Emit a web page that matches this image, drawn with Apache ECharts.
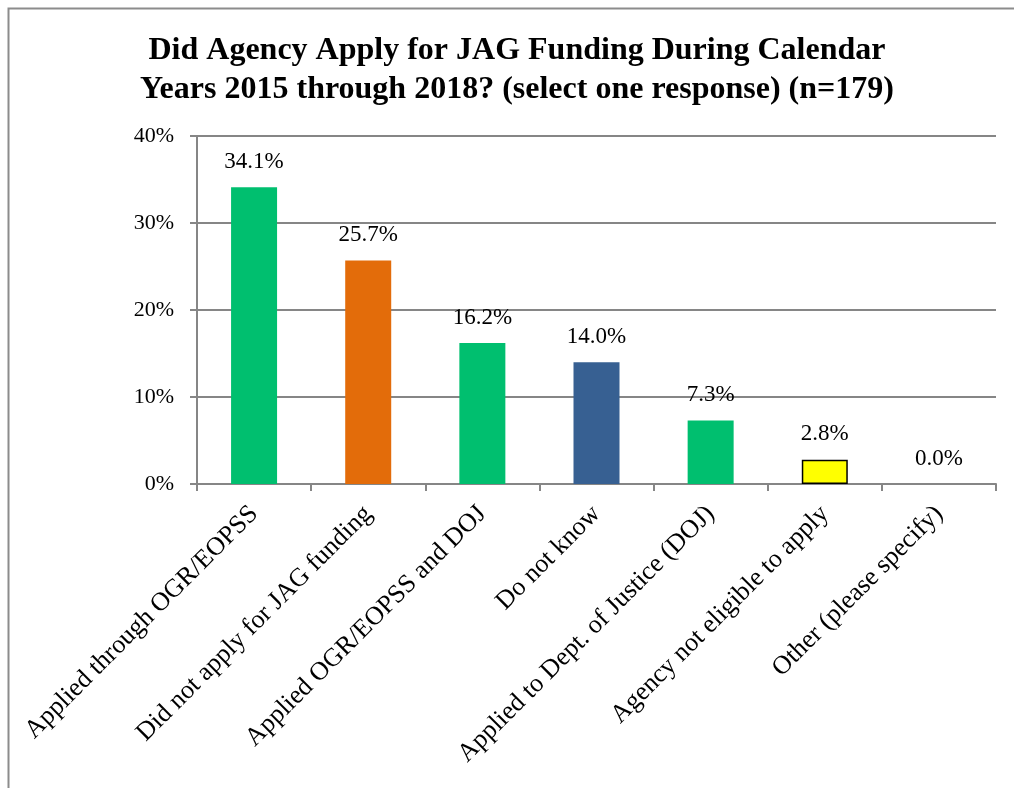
<!DOCTYPE html>
<html><head><meta charset="utf-8">
<script src="https://cdn.jsdelivr.net/npm/echarts@6/dist/echarts.min.js"></script>
<style>html,body{margin:0;padding:0;background:#fff}#c{width:1014px;height:788px}</style>
</head><body><div id="c"></div>
<script>
const categories = ["Applied through OGR/EOPSS","Did not apply for JAG funding","Applied OGR/EOPSS and DOJ","Do not know","Applied to Dept. of Justice (DOJ)","Agency not eligible to apply","Other (please specify)"];
const values = [34.1, 25.7, 16.2, 14.0, 7.3, 2.8, 0.0];
const barColors = ["#00BF6F","#E36C0A","#00BF6F","#376092","#00BF6F","#FFFF00","#00BF6F"];
const yTicks = [0, 10, 20, 30, 40];

const chart = echarts.init(document.getElementById('c'));
const font = '"Liberation Serif","Times New Roman",serif';
chart.setOption({
  animation: false,
  graphic: [{type:'rect', shape:{x:8.5,y:8.5,width:1020,height:800}, style:{fill:'none',stroke:'#8c8c8c',lineWidth:2}}],
  title: {
    text: 'Did Agency Apply for JAG Funding During Calendar\nYears 2015 through 2018? (select one response) (n=179)',
    left: 512, top: 26, textAlign: 'center',
    textStyle: {fontFamily: font, fontWeight: 'bold', fontSize: 32, color: '#000', lineHeight: 39}
  },
  grid: {left: 197, right: 18, top: 136, bottom: 304, containLabel: false},
  xAxis: {
    type: 'category', data: categories,
    axisLine: {lineStyle: {color: '#868686', width: 2}},
    axisTick: {show: true, length: 7, lineStyle: {color: '#868686', width: 2}},
    axisLabel: {rotate: 45, fontFamily: font, fontSize: 26, color: '#000', margin: 26, interval: 0}
  },
  yAxis: {
    type: 'value', min: yTicks[0], max: yTicks[yTicks.length-1], interval: 10,
    axisLine: {show: true, lineStyle: {color: '#868686', width: 2}},
    axisTick: {show: true, length: 7, lineStyle: {color: '#868686', width: 2}},
    splitLine: {lineStyle: {color: '#868686', width: 2}},
    axisLabel: {formatter: '{value}%', fontFamily: font, fontSize: 22, color: '#000', margin: 23}
  },
  series: [{
    type: 'bar', barWidth: 46,
    data: values.map((v, i) => ({value: v, itemStyle: {color: barColors[i], borderColor: i === 5 ? '#000' : barColors[i], borderWidth: i === 5 ? 1.5 : 0}})),
    label: {show: true, position: 'top', distance: 14, formatter: p => p.value.toFixed(1) + '%', fontFamily: font, fontSize: 23, color: '#000'}
  }]
});
</script></body></html>
